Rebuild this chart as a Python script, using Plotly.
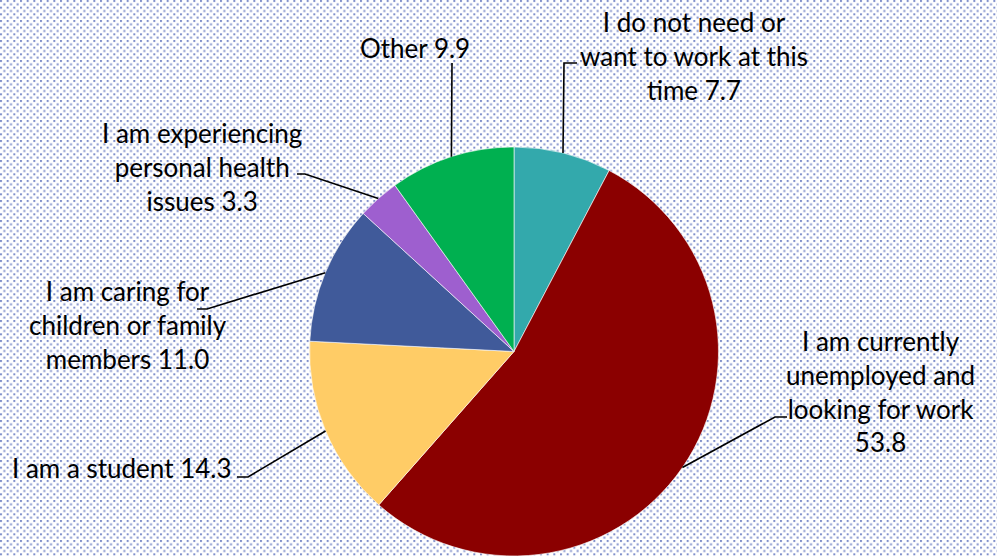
import math, base64
import plotly.graph_objects as go

# ---- data ----
labels = [
    "I do not need or want to work at this time",
    "I am currently unemployed and looking for work",
    "I am a student",
    "I am caring for children or family members",
    "I am experiencing personal health issues",
    "Other",
]
values = [7.7, 53.8, 14.3, 11.0, 3.3, 9.9]
label_texts = [
    "I do not need or<br>want to work at this<br>time 7.7",
    "I am currently<br>unemployed and<br>looking for work<br>53.8",
    "I am a student 14.3",
    "I am caring for<br>children or family<br>members 11.0",
    "I am experiencing<br>personal health<br>issues 3.3",
    "Other 9.9",
]
colors = ["#33A9AC", "#8B0000", "#FFCC66", "#405A9A", "#9E5FCF", "#00B050"]

# ---- layout constants ----
W, H = 997, 556
dom_x = [0.3089, 0.7222]
dom_y = [0.0, 0.7356]
# label centres (pixels from top-left) and leader-line elbows
label_pos = [(694, 56), (880, 392), (122, 468), (128, 325), (202, 167), (415, 48)]
elbows = [
    [(564, 63), (577, 63)],
    [(775, 417), (787, 417)],
    [(248, 477), (237, 477)],
    [(207, 309), (197, 309)],
    [(305, 174), (297, 174)],
    [(452, 63)],
]

# pie geometry in pixels
pw = (dom_x[1] - dom_x[0]) * W
ph = (dom_y[1] - dom_y[0]) * H
R = min(pw, ph) / 2
CX = (dom_x[0] + dom_x[1]) / 2 * W
CY = H - (dom_y[0] + dom_y[1]) / 2 * H

def to_paper(x, y):
    return x / W, 1 - y / H

# background dotted pattern as SVG
t = 20 / 3
svg = (
    f'<svg xmlns="http://www.w3.org/2000/svg" width="{W}" height="{H}">'
    f'<defs><pattern id="p" patternUnits="userSpaceOnUse" width="{t}" height="{t}">'
    f'<rect x="0" y="0" width="{t}" height="{t}" fill="#ffffff"/>'
    f'<rect x="0" y="0" width="2" height="2" fill="#7F8FCB"/>'
    f'<rect x="{t/2}" y="{t/2}" width="2" height="2" fill="#7F8FCB"/>'
    f'</pattern></defs><rect width="{W}" height="{H}" fill="url(#p)"/></svg>'
)
src = "data:image/svg+xml;base64," + base64.b64encode(svg.encode()).decode()

fig = go.Figure(
    go.Pie(
        labels=labels,
        values=values,
        sort=False,
        direction="clockwise",
        rotation=0,
        marker=dict(colors=colors, line=dict(color="#FFFFFF", width=0.6)),
        textinfo="none",
        hoverinfo="label+value",
        domain=dict(x=dom_x, y=dom_y),
        showlegend=False,
    )
)

shapes = []
annotations = []
total = sum(values)
cum = 0.0
for i, v in enumerate(values):
    mid = (cum + v / 2) / total * 2 * math.pi
    cum += v
    sx = CX + R * math.sin(mid)
    sy = CY - R * math.cos(mid)
    pts = [(sx, sy)] + elbows[i]
    path = ""
    for j, (px, py) in enumerate(pts):
        ux, uy = to_paper(px, py)
        path += ("M" if j == 0 else " L") + f"{ux:.5f},{uy:.5f}"
    shapes.append(dict(type="path", path=path, xref="paper", yref="paper",
                       line=dict(color="#000000", width=1.6)))
    lx, ly = to_paper(*label_pos[i])
    annotations.append(dict(
        text=label_texts[i], x=lx, y=ly, xref="paper", yref="paper",
        xanchor="center", yanchor="middle", align="center", showarrow=False,
        font=dict(family="Lato", size=26, color="#000000"),
    ))

fig.update_layout(
    width=W, height=H,
    margin=dict(l=0, r=0, t=0, b=0),
    paper_bgcolor="#FFFFFF",
    plot_bgcolor="#FFFFFF",
    shapes=shapes,
    annotations=annotations,
    images=[dict(source=src, xref="paper", yref="paper", x=0, y=1, sizex=1, sizey=1,
                 sizing="stretch", xanchor="left", yanchor="top", layer="below")],
)

fig.write_html(
    "out.html",
    config={"displayModeBar": False},
    post_script="document.body.style.margin='0';document.body.style.overflow='hidden';",
)
